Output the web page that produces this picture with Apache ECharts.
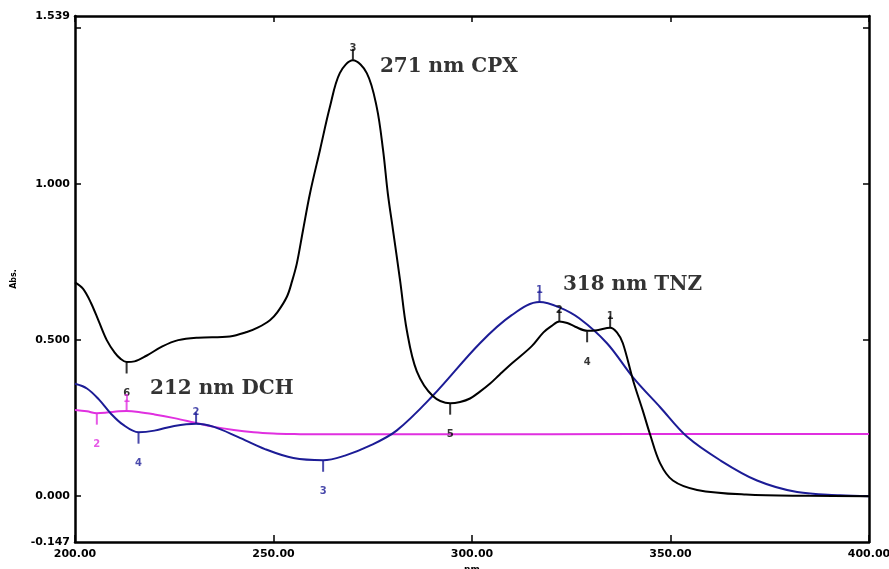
<!DOCTYPE html>
<html>
<head>
<meta charset="utf-8">
<script src="https://cdn.jsdelivr.net/npm/echarts@6/dist/echarts.min.js"></script>
<style>html,body{margin:0;padding:0;background:#fff}#c{width:889px;height:569px}</style>
</head>
<body>
<div id="c"></div>
<script>
// ---- data ----
const cpxX = [200,202,204,206,208,210,211.5,213,215,218,222,226,231,239,243.3,246,249.1,251,253.4,254.7,255.9,257.4,259.2,261.7,264.2,266.7,270,273.5,276,277.6,278.8,280.1,281.9,283.6,286.1,290.2,294.5,297,299.5,302,304.5,307,310,315,318,320,322,324,326,329,331.5,334.8,336.5,338,340.6,343,344.8,347.4,350.6,356.7,369,385,400];
const cpxY = [0.685,0.665,0.62,0.56,0.5,0.46,0.44,0.43,0.432,0.45,0.48,0.5,0.508,0.512,0.526,0.54,0.564,0.59,0.64,0.69,0.747,0.85,0.971,1.109,1.247,1.356,1.397,1.356,1.247,1.109,0.97,0.853,0.69,0.53,0.40,0.32,0.298,0.302,0.313,0.335,0.36,0.39,0.425,0.48,0.525,0.545,0.56,0.555,0.543,0.53,0.532,0.54,0.525,0.49,0.37,0.275,0.2,0.105,0.05,0.02,0.005,0.001,0];

const tnzX = [200,203,206,209,212,216,220,225,230.5,235,241,248,255,262.5,268,274,281,290,302,310,317,322,327,334,340.6,347.4,354.2,362.5,371.8,381.9,392.7,400];
const tnzY = [0.36,0.345,0.31,0.265,0.23,0.205,0.21,0.225,0.232,0.222,0.19,0.15,0.122,0.115,0.13,0.16,0.21,0.32,0.49,0.58,0.622,0.605,0.57,0.49,0.38,0.285,0.19,0.115,0.05,0.013,0.003,0];

const dchX = [200,203,205.5,208,211,213,216,220,225,230,235,240,245,250,255,260,280,300,340,400];
const dchY = [0.276,0.272,0.266,0.268,0.272,0.273,0.27,0.262,0.25,0.236,0.222,0.212,0.205,0.201,0.199,0.198,0.198,0.198,0.199,0.199];

// peak (maximum) and valley (minimum) markers: [x, y, label]
const cpxPeaks = [[270,1.397,'3'],[322,0.56,'2'],[334.8,0.54,'1']];
const cpxValleys = [[213,0.43,'6'],[294.5,0.298,'5'],[329,0.53,'4']];
const tnzPeaks = [[317,0.622,'1'],[230.5,0.232,'2']];
const tnzValleys = [[216,0.205,'4'],[262.5,0.115,'3']];
const dchPeaks = [[213,0.273,'1']];
const dchValleys = [[205.5,0.266,'2']];

// annotations: [x, y, text]
const notes = [[276.8,1.375,'271 nm CPX'],[322.9,0.676,'318 nm TNZ'],[218.9,0.343,'212 nm DCH']];

const xTicks = [200,250,300,350,400];
const yTickVals = [0,0.5,1.0,1.5];
const yLabelVals = [-0.147,0,0.5,1.0,1.539];
const xMin = 200, xMax = 400, yMin = -0.147, yMax = 1.539;

// ---- build ----
const BLACK = '#000000', BLUE = '#1c1c96', MAG = '#e030e0';
const zip = (xs, ys) => xs.map((x,i)=>[x, ys[i]]);

function lineSeries(name, xs, ys, color){
  return {name, type:'line', data: zip(xs, ys), smooth:0.35, symbol:'none',
    lineStyle:{color, width:2}, z:3};
}
function markerSeries(list, color, up){
  return {type:'scatter', symbol:'rect', symbolSize:[2,11],
    symbolOffset:[0, up ? -6 : 6],
    data: list.map(p=>({value:[p[0],p[1]], name:p[2]})),
    itemStyle:{color}, z:4,
    label:{show:true, formatter:'{b}', position: up ? 'top' : 'bottom',
      distance: up ? -5 : 15, color, fontSize:10, fontWeight:'bold', fontFamily:'DejaVu Sans'}};
}

const axisLabelFont = {fontFamily:'DejaVu Sans', fontWeight:'bold', fontSize:11, color:'#000'};

const option = {
  animation:false,
  backgroundColor:'#fff',
  grid:{left:75, right:20, top:16, bottom:27, outerBoundsMode:'none', containLabel:false},
  xAxis:[{
    type:'value', min:xMin, max:xMax, interval:50, position:'bottom',
    name:'nm', nameLocation:'middle', nameGap:21,
    nameTextStyle:{fontFamily:'DejaVu Sans', fontWeight:'bold', fontSize:9, color:'#000'},
    axisLine:{show:true, onZero:false, lineStyle:{color:'#000', width:2.5}},
    axisTick:{show:true, inside:true, length:7, lineStyle:{color:'#000', width:1.5}, customValues: xTicks},
    axisLabel:Object.assign({margin:7, formatter:v=>v.toFixed(2), customValues: xTicks}, axisLabelFont),
    splitLine:{show:false}
  },{
    type:'value', min:xMin, max:xMax, interval:50, position:'top',
    axisLine:{show:true, onZero:false, lineStyle:{color:'#000', width:2.5}},
    axisTick:{show:true, inside:true, length:6, lineStyle:{color:'#000', width:1.5}, customValues: xTicks},
    axisLabel:{show:false}, splitLine:{show:false}
  }],
  yAxis:[{
    type:'value', min:yMin, max:yMax, position:'left',
    name:'Abs.', nameLocation:'middle', nameGap:57, nameRotate:90,
    nameTextStyle:{fontFamily:'DejaVu Sans', fontWeight:'bold', fontSize:8, color:'#000'},
    axisLine:{show:true, onZero:false, lineStyle:{color:'#000', width:2.5}},
    axisTick:{show:true, inside:true, length:6, lineStyle:{color:'#000', width:1.5}, customValues: yTickVals},
    axisLabel:Object.assign({margin:5, formatter:v=>v.toFixed(3), customValues: yLabelVals}, axisLabelFont),
    splitLine:{show:false}
  },{
    type:'value', min:yMin, max:yMax, position:'right',
    axisLine:{show:true, onZero:false, lineStyle:{color:'#000', width:2.5}},
    axisTick:{show:true, inside:true, length:6, lineStyle:{color:'#000', width:1.5}, customValues: yTickVals},
    axisLabel:{show:false}, splitLine:{show:false}
  }],
  series:[
    lineSeries('DCH', dchX, dchY, MAG),
    lineSeries('TNZ', tnzX, tnzY, BLUE),
    lineSeries('CPX', cpxX, cpxY, BLACK),
    markerSeries(cpxPeaks, BLACK, true),
    markerSeries(cpxValleys, BLACK, false),
    markerSeries(tnzPeaks, BLUE, true),
    markerSeries(tnzValleys, BLUE, false),
    markerSeries(dchPeaks, MAG, true),
    markerSeries(dchValleys, MAG, false),
    {type:'scatter', symbolSize:0, z:5,
     data: notes.map(n=>({value:[n[0],n[1]], name:n[2]})),
     label:{show:true, formatter:'{b}', position:'right', distance:0,
       fontFamily:'DejaVu Serif', fontWeight:'bold', fontSize:20, color:'#000'}}
  ]
};

const chart = echarts.init(document.getElementById('c'), null, {renderer:'canvas'});
chart.setOption(option);
</script>
</body>
</html>
